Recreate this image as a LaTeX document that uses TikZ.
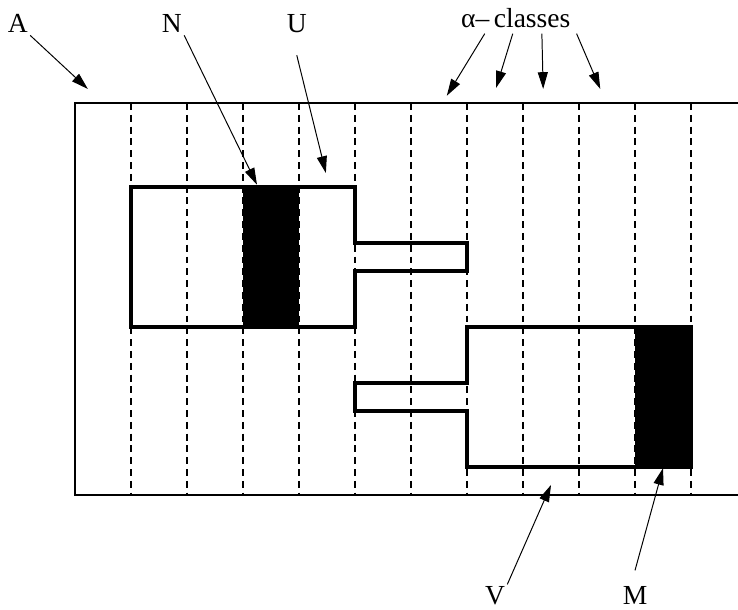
\documentclass[tikz,border=0pt]{standalone}
\usepackage{fontspec}
\setmainfont{Liberation Serif}
\usetikzlibrary{arrows.meta}
\tikzset{
  lbl/.style={font=\fontsize{14}{16}\selectfont, inner sep=1pt, anchor=base},
  arr/.style={-{Triangle[length=3mm, width=1.8mm]}, line width=0.5pt},
  classline/.style={dash pattern=on 3.5pt off 2.5pt, line width=0.6pt},
  frame/.style={line width=0.8pt},
  cellbox/.style={line width=1.6pt, line join=miter},
  mark fill/.style={fill=black}
}
\begin{document}
\begin{tikzpicture}[x=1cm, y=-1cm]
\useasboundingbox (-1.339,-1.839) rectangle (11.839,9.036);
% alpha-classes
\foreach \i in {1,...,11}
  \draw[classline] (\i,0) -- (\i,7);
% N and M
\fill[mark fill] (3,1.5) rectangle (4,4);
\fill[mark fill] (10,4) rectangle (11,6.5);
% U and V
\draw[cellbox] (1,1.5) -- (5,1.5) -- (5,2.5) -- (7,2.5) -- (7,3) -- (5,3) -- (5,4) -- (1,4) -- cycle;
\draw[cellbox] (7,4) -- (11,4) -- (11,6.5) -- (7,6.5) -- (7,5.5) -- (5,5.5) -- (5,5) -- (7,5) -- cycle;
% A
\draw[frame] (11.839,0) -- (0,0) -- (0,7) -- (11.839,7);
% labels
\node[lbl] (lblA) at (-1.02,-1.25) {A};
\node[lbl] (lblN) at (1.73,-1.25) {N};
\node[lbl] (lblU) at (3.96,-1.25) {U};
\node[lbl, inner sep=0pt] (lblAlpha) at (7.87,-1.34) {α–\,classes};
\node[lbl] (lblV) at (7.5,8.96) {V};
\node[lbl] (lblM) at (10.0,8.96) {M};
% arrow tips
\coordinate (tipA) at (0.23,-0.25);
\coordinate (tipN) at (3.25,1.46);
\coordinate (tipU) at (4.48,1.25);
\coordinate (tipC1) at (6.64,-0.13);
\coordinate (tipC2) at (7.52,-0.27);
\coordinate (tipC3) at (8.36,-0.25);
\coordinate (tipC4) at (9.38,-0.25);
\coordinate (tipV) at (8.5,6.82);
\coordinate (tipM) at (10.5,6.52);
\draw[arr] (lblA.south east) -- (tipA);
\draw[arr] (lblN.south east) -- (tipN);
\draw[arr] ([yshift=-0.35cm]lblU.south) -- (tipU);
\draw[arr] ([xshift=0.43cm, yshift=-0.09cm]lblAlpha.south west) -- (tipC1);
\draw[arr] ([xshift=0.93cm, yshift=-0.09cm]lblAlpha.south west) -- (tipC2);
\draw[arr] ([xshift=1.45cm, yshift=-0.09cm]lblAlpha.south west) -- (tipC3);
\draw[arr] ([xshift=2.07cm, yshift=-0.09cm]lblAlpha.south west) -- (tipC4);
\draw[arr] (lblV.north east) -- (tipV);
\draw[arr] ([yshift=0.25cm]lblM.north) -- (tipM);
\end{tikzpicture}
\end{document}
